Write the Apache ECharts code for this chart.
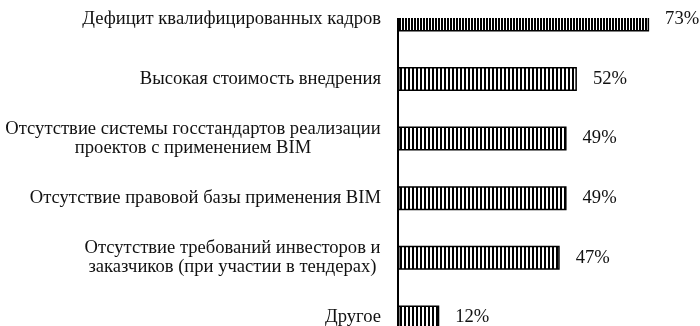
<!DOCTYPE html>
<html>
<head>
<meta charset="utf-8">
<script src="https://cdn.jsdelivr.net/npm/echarts@6/dist/echarts.min.js"></script>
<style>
  html, body { margin: 0; padding: 0; background: #fff; }
  #chart { width: 700px; height: 326px; }
</style>
</head>
<body>
<div id="chart"></div>
<script>
// Barriers to BIM adoption, share of respondents (%)
const categories = [
  'Дефицит квалифицированных кадров',
  'Высокая стоимость внедрения',
  'Отсутствие системы госстандартов реализации\nпроектов с применением BIM',
  'Отсутствие правовой базы применения BIM',
  'Отсутствие требований инвесторов и\nзаказчиков (при участии в тендерах)',
  'Другое'
];
const shares = [73, 52, 49, 49, 47, 12];

const FONT = '"Liberation Serif", "Times New Roman", serif';
const FONT_SIZE = 18.6;
const LINE_H = 19.5;

// Vertical hatch fill for the bars
function hatch(period, ink) {
  const c = document.createElement('canvas');
  c.width = period; c.height = 4;
  const g = c.getContext('2d');
  g.fillStyle = '#fff'; g.fillRect(0, 0, period, 4);
  g.fillStyle = '#000'; g.fillRect(0, 0, ink, 4);
  return { image: c, repeat: 'repeat' };
}
const wideHatch = hatch(4, 2);
const denseHatch = hatch(3, 2);

// Multi-line category labels: lines centred within the widest line
const measure = document.createElement('canvas').getContext('2d');
measure.font = FONT_SIZE + 'px ' + FONT;
const rich = {};
const labelText = {};
categories.forEach((cat, i) => {
  const lines = cat.split('\n');
  if (lines.length < 2) return;
  const w = Math.ceil(Math.max(...lines.map(l => measure.measureText(l).width)));
  rich['l' + i] = { width: w, align: 'center', fontFamily: FONT, fontSize: FONT_SIZE, lineHeight: LINE_H, color: '#111' };
  labelText[cat] = lines.map(l => '{l' + i + '|' + l + '}').join('\n');
});

const chart = echarts.init(document.getElementById('chart'));
chart.setOption({
  animation: false,
  backgroundColor: '#fff',
  grid: {
    left: 398, right: 26.8, top: -10.4, bottom: -21.2,
    containLabel: false, outerBoundsMode: 'none'
  },
  xAxis: {
    type: 'value', min: 0, max: 80, show: false
  },
  yAxis: {
    type: 'category',
    inverse: true,
    data: categories,
    axisLine: { show: true, lineStyle: { color: '#000', width: 2 } },
    axisTick: { show: false },
    splitLine: { show: false },
    axisLabel: {
      margin: 17,
      fontFamily: FONT,
      fontSize: FONT_SIZE,
      lineHeight: LINE_H,
      color: '#111',
      formatter: v => labelText[v] || v,
      rich: rich
    }
  },
  series: [{
    type: 'bar',
    barWidth: 24,
    data: shares.map((v, i) => ({
      value: v,
      itemStyle: { color: i === 0 ? denseHatch : wideHatch }
    })),
    itemStyle: { borderColor: '#000', borderWidth: 1.5 },
    label: {
      show: true,
      position: 'right',
      distance: 16,
      formatter: '{c}%',
      fontFamily: FONT,
      fontSize: FONT_SIZE,
      color: '#111'
    }
  }],
  graphic: [{
    type: 'rect',
    z: 100,
    shape: { x: 392, y: 0, width: 264, height: 18 },
    style: { fill: '#fff' }
  }]
});
</script>
</body>
</html>
